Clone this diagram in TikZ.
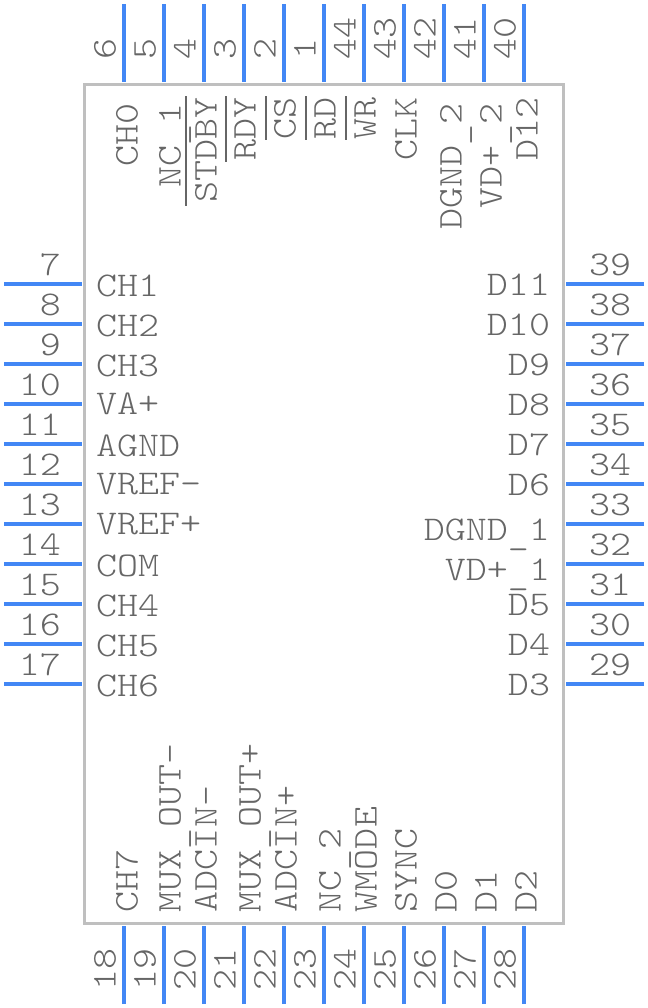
\documentclass[tikz,border=0pt]{standalone}
\usepackage{fontspec}
\newfontfamily\pinfont[FakeStretch=1.154]{Latin Modern Mono Light}
\definecolor{pinblue}{HTML}{4287F5}
\definecolor{chipgrey}{HTML}{BFBFBF}
\definecolor{txtgrey}{HTML}{666666}
\newcommand{\lowbar}{\raisebox{-3.2pt}{\_}}
\tikzset{
  pinline/.style={draw=pinblue,line width=3pt},
  chipbox/.style={draw=chipgrey,line width=2.7pt},
  lab/.style={text=txtgrey,font=\pinfont\fontsize{26pt}{26pt}\selectfont,inner sep=0pt,outer sep=0pt},
  barline/.style={draw=txtgrey,line width=1.5pt},
}
\begin{document}
\begin{tikzpicture}[x=0.75pt,y=-0.75pt]
\useasboundingbox (0,0) rectangle (648,1008);
\fill[white] (0,0) rectangle (648,1008);
\draw[chipbox] (84.5,84.5) rectangle (563.5,923.5);
% pins
\foreach \n/\x in {6/124,5/164,4/204,3/244,2/284,1/324,44/364,43/404,42/444,41/484,40/524}{
  \coordinate (o\n) at (\x,4); \coordinate (i\n) at (\x,82);
  \draw[pinline] (o\n) -- (i\n);
  \node[lab,rotate=90,anchor=base west] (n\n) at (\x-8.5,59) {\n};
}
\foreach \n/\x in {18/124,19/164,20/204,21/244,22/284,23/324,24/364,25/404,26/444,27/484,28/524}{
  \coordinate (o\n) at (\x,1004); \coordinate (i\n) at (\x,926);
  \draw[pinline] (o\n) -- (i\n);
  \node[lab,rotate=90,anchor=base east] (n\n) at (\x-8.5,948) {\n};
}
\foreach \n/\y in {7/284,8/324,9/364,10/404,11/444,12/484,13/524,14/564,15/604,16/644,17/684}{
  \coordinate (o\n) at (4,\y); \coordinate (i\n) at (82,\y);
  \draw[pinline] (o\n) -- (i\n);
  \node[lab,anchor=base east] (n\n) at (61,\y-8.5) {\n};
}
\foreach \n/\y in {39/284,38/324,37/364,36/404,35/444,34/484,33/524,32/564,31/604,30/644,29/684}{
  \coordinate (o\n) at (644,\y); \coordinate (i\n) at (566,\y);
  \draw[pinline] (o\n) -- (i\n);
  \node[lab,anchor=base west] (n\n) at (589,\y-8.5) {\n};
}
% top labels
\foreach \k/\t/\x/\y in {a/CH0/137.5/103,b/NC\lowbar 1/180.5/103,c/STDBY/216.5/97,d/RDY/255.5/97,e/CS/295.5/97,f/RD/335.5/97,g/WR/375.5/97,h/CLK/416.5/97,i/DGND\lowbar 2/461.5/103,j/VD+\lowbar 2/501.5/103,k/D12/537.5/97}{
  \node[lab,rotate=90,anchor=base east] (t\k) at (\x,\y) {\t};
}
\foreach \a/\b/\x/\y in {tc1/tc2/186/206,td1/td2/226/162,te1/te2/266/140,tf1/tf2/306/140,tg1/tg2/346/140}{
  \coordinate (\a) at (\x,96); \coordinate (\b) at (\x,\y);
  \draw[barline] (\a) -- (\b);
}
% bottom labels
\foreach \k/\t/\x in {a/CH7/137.5,b/MUX\lowbar OUT-/180.5,c/ADCIN-/216.5,d/MUX\lowbar OUT+/260.5,e/ADCIN+/296.5,f/NC\lowbar 2/340.5,g/WMODE/376.5,h/SYNC/416.5,i/D0/456.5,j/D1/496.5,k/D2/536.5}{
  \node[lab,rotate=90,anchor=base west] (b\k) at (\x,912) {\t};
}
% left labels
\foreach \k/\t/\y in {a/CH1/296.5,b/CH2/336.5,c/CH3/376.5,d/VA+/414.5,e/AGND/456.5,f/VREF-/494.5,g/VREF+/534.5,h/COM/576.5,i/CH4/616.5,j/CH5/656.5,k/CH6/696.5}{
  \node[lab,anchor=base west] (l\k) at (96,\y) {\t};
}
% right labels
\foreach \k/\t/\y in {a/D11/295.5,b/D10/335.5,c/D9/375.5,d/D8/415.5,e/D7/455.5,f/D6/495.5,g/DGND\lowbar 1/540.5,h/VD+\lowbar 1/580.5,i/D5/615.5,j/D4/655.5,k/D3/695.5}{
  \node[lab,anchor=base east] (r\k) at (550,\y) {\t};
}
\end{tikzpicture}
\end{document}
